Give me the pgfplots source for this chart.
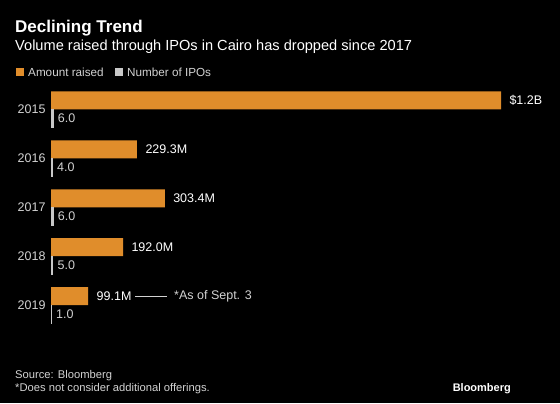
\documentclass[border=0pt]{standalone}
\usepackage{pgfplots}
\pgfplotsset{compat=1.18}
\usepackage{fontspec}
\setmainfont{Liberation Sans}
\definecolor{bbor}{HTML}{E08D2B}
\definecolor{bbgr}{HTML}{C8C8C8}
\definecolor{bbtx}{HTML}{D2D2D2}
\begin{document}
\begin{tikzpicture}[x=1bp,y=1bp]
\fill[black] (0,0) rectangle (560,403);
\useasboundingbox (0,0) rectangle (560,403);
\node[anchor=base west,inner sep=0,text=white,font=\bfseries\fontsize{17bp}{20bp}\selectfont] at (15,371) {Declining Trend};
\node[anchor=base west,inner sep=0,text=white,font=\fontsize{14.6bp}{17bp}\selectfont] at (15,353) {Volume raised through IPOs in Cairo has dropped since 2017};
\fill[bbor] (16,327) rectangle (24,335);
\node[anchor=base west,inner sep=0,text=bbtx,font=\fontsize{11.7bp}{14bp}\selectfont] at (28,327) {Amount raised};
\fill[bbgr] (115,327) rectangle (123,335);
\node[anchor=base west,inner sep=0,text=bbtx,font=\fontsize{11.7bp}{14bp}\selectfont] at (127,327) {Number of IPOs};
\node[anchor=base west,inner sep=0,text=bbtx,font=\fontsize{11.2bp}{13bp}\selectfont] at (15,25) {Source: Bloomberg};
\node[anchor=base west,inner sep=0,text=bbtx,font=\fontsize{11.2bp}{13bp}\selectfont] at (15,12) {*Does not consider additional offerings.};
\node[anchor=base east,inner sep=0,text=white,font=\bfseries\fontsize{11bp}{13bp}\selectfont] at (511,12) {Bloomberg};
\begin{axis}[
  at={(51bp,73.5bp)}, anchor=south west,
  scale only axis, width=450bp, height=244.5bp,
  xmin=0, xmax=1200, ymin=-0.5, ymax=4.5, y dir=reverse,
  xbar, bar width=18bp,
  axis line style={draw=none}, major tick length=0pt,
  xtick=\empty, ytick={0,1,2,3,4},
  yticklabels={2015,2016,2017,2018,2019},
  yticklabel style={text=bbtx,font=\fontsize{12.5bp}{15bp}\selectfont,xshift=-2bp},
  clip=false,
  point meta=explicit symbolic,
  nodes near coords,
]
\addplot[fill=bbor,draw=none,bar shift=9bp,
  nodes near coords style={anchor=west,xshift=5bp,text=white,font=\fontsize{12.5bp}{15bp}\selectfont}]
  coordinates {(1200,0) [\$1.2B] (229.3,1) [229.3M] (303.4,2) [303.4M] (192.0,3) [192.0M] (99.1,4) [99.1M]};
\addplot[fill=bbgr,draw=bbgr,line width=0.8bp,bar shift=-9bp,
  nodes near coords style={anchor=west,xshift=1bp,text=bbtx,font=\fontsize{12.5bp}{15bp}\selectfont}]
  coordinates {(6,0) [6.0] (4,1) [4.0] (6,2) [6.0] (5,3) [5.0] (1,4) [1.0]};
\draw[bbtx,line width=0.7bp] ([yshift=9bp]axis cs:224,4) -- ([yshift=9bp]axis cs:309,4);
\node[anchor=west,inner sep=0,text=bbtx,font=\fontsize{12.5bp}{15bp}\selectfont] at ([yshift=9bp]axis cs:328,4) {*As of Sept. 3};
\end{axis}
\end{tikzpicture}
\end{document}
